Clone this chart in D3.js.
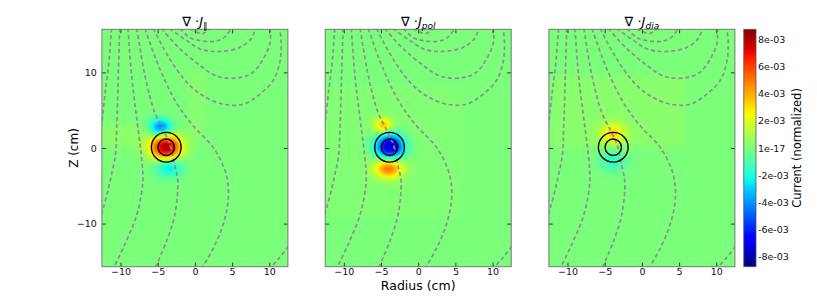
<!DOCTYPE html>
<html>
<head>
<meta charset="utf-8">
<script src="https://cdn.jsdelivr.net/npm/d3@7"></script>
<style>
body { margin: 0; background: #fff; }
svg { display: block; }
text { font-family: "DejaVu Sans", sans-serif; }
</style>
</head>
<body>
<div id="chart"></div>
<script>
// ---- data ----
const panelTitles = [["J", "\u2225"], ["J", "pol"], ["J", "dia"]];
const xTicks = [-10, -5, 0, 5, 10];
const yTicks = [-10, 0, 10];
const cbTicks = [8e-3, 6e-3, 4e-3, 2e-3, 0, -2e-3, -4e-3, -6e-3, -8e-3];
const cbLabels = ["8e-03", "6e-03", "4e-03", "2e-03", "1e-17", "-2e-03", "-4e-03", "-6e-03", "-8e-03"];
const cRange = [-8.75e-3, 8.75e-3];
const coilCenter = [-3.85, 0.1];
const coilRadii = [2.0, 1.1];

// current blobs: [R, Z, sigmaR, sigmaZ, amplitude (1e-3)]
const blobsPar = [
  [-3.9, 0.1, 1.45, 1.15, 8.3],
  [-4.6, 2.7, 1.05, 0.8, -4.6],
  [-3.5, -2.5, 1.25, 0.9, -2.9]
];
const blobsPol = [
  [-3.8, 0.2, 1.3, 1.1, -8.0],
  [-4.0, -2.7, 1.3, 0.9, 5.0],
  [-4.7, 3.0, 0.85, 0.7, 3.6]
];
const blobsDia = [
  [-3.9, 1.9, 1.2, 0.95, 3.0],
  [-3.9, -1.7, 1.25, 0.95, -1.7]
];
// faint patches: [R0, R1, Z0, Z1, amplitude (1e-3)]
const patchesPar = [
  [-13, -5.5, 0.0, 3.0, 0.35],
  [-0.8, 1.5, 1.0, 10.0, 0.25]
];
const patchesPol = [
  [-13, 6, -9, 8, 0.15]
];
const patchesDia = [
  [-12, 6, 0.0, 9.5, 0.3]
];

// flux surfaces (dashed), [R, Z] points
const fluxLines = [
  [[-11.2, 15.8], [-11.6, 11.0], [-12.1, 7.0], [-12.5, 3.5], [-12.7, 2.5]],
  [[-10.1, 15.8], [-10.3, 9.5], [-10.5, 2.9], [-10.7, -1.0], [-11.2, -3.5], [-11.6, -5.3], [-12.3, -7.9], [-12.7, -9.2]],
  [[-9.0, 15.8], [-8.5, 9.5], [-7.8, 3.8], [-7.2, -1.0], [-7.0, -4.4], [-7.8, -8.8], [-9.4, -12.7], [-11.0, -16.0]],
  [[-7.8, 15.8], [-6.7, 9.5], [-5.4, 4.7], [-4.2, 2.3], [-3.4, 0.6], [-3.0, -0.9], [-2.7, -2.4], [-2.3, -4.4], [-2.7, -8.8], [-3.8, -12.3], [-5.4, -16.0]],
  [[-6.7, 15.8], [-4.9, 10.9], [-2.5, 6.0], [-0.2, 2.9], [2.6, -0.1], [4.2, -3.5], [4.5, -6.6], [3.8, -10.1], [2.5, -13.2], [0.9, -16.0]],
  [[12.6, -13.0], [11.3, -14.6], [10.0, -16.0]],
  [[-5.6, 15.8], [-3.4, 11.8], [-1.1, 8.7], [1.1, 6.9], [3.8, 5.8], [6.5, 5.8], [8.7, 7.1], [10.5, 8.9], [11.4, 11.3], [11.6, 13.9], [11.4, 15.8]],
  [[-4.5, 15.8], [-2.0, 13.1], [0.7, 10.9], [2.5, 9.7], [3.8, 9.3], [6.0, 9.3], [7.8, 10.0], [9.2, 11.8], [10.1, 13.9], [10.1, 15.8]],
  [[-3.4, 15.8], [-1.1, 14.2], [0.7, 13.1], [2.2, 12.8], [3.8, 12.8], [6.0, 13.3], [7.6, 14.5], [8.1, 15.8]],
  [[-2.0, 15.8], [-0.7, 14.6], [0.7, 14.2], [2.5, 14.1], [3.8, 14.5], [4.9, 15.8]],
  [[-0.7, 15.8], [0.3, 15.3], [1.2, 15.2], [2.0, 15.8]]
];

const panelBlobs = [blobsPar, blobsPol, blobsDia];
const panelPatches = [patchesPar, patchesPol, patchesDia];

// ---- layout ----
const W = 817, H = 297;
const panelLeft = [101.9, 325.2, 548.9];
const plotTop = 29.3, pw = 186, ph = 237.4;
const cb = {x: 743.8, w: 12.2};

const svg = d3.select("#chart").append("svg")
  .attr("width", W).attr("height", H);

const x = d3.scaleLinear().domain([-12.5, 12.5]).range([0, pw]);
const y = d3.scaleLinear().domain([-15.7, 15.7]).range([ph, 0]);

// matplotlib jet
const jetR = d3.scaleLinear().domain([0, 0.35, 0.66, 0.89, 1]).range([0, 0, 1, 1, 0.5]).clamp(true);
const jetG = d3.scaleLinear().domain([0, 0.125, 0.375, 0.64, 0.91, 1]).range([0, 0, 1, 1, 0, 0]).clamp(true);
const jetB = d3.scaleLinear().domain([0, 0.11, 0.34, 0.65, 1]).range([0.5, 1, 1, 0, 0]).clamp(true);
const norm = d3.scaleLinear().domain(cRange).range([0, 1]).clamp(true);
function jet(t) { return [jetR(t) * 255, jetG(t) * 255, jetB(t) * 255]; }

function ramp(t, a, b) {
  const s = 1.2;
  const l = Math.min(1, Math.max(0, (t - a) / s + 0.5));
  const r = Math.min(1, Math.max(0, (b - t) / s + 0.5));
  return l * r;
}
function field(X, Y, blobs, patches) {
  let v = 0;
  blobs.forEach(function(b) {
    const dx = (X - b[0]) / b[2], dy = (Y - b[1]) / b[3];
    v += b[4] * Math.exp(-0.5 * (dx * dx + dy * dy));
  });
  patches.forEach(function(p) {
    v += p[4] * ramp(X, p[0], p[1]) * ramp(Y, p[2], p[3]);
  });
  return v * 1e-3;
}

function heatImage(blobs, patches) {
  const cw = Math.round(pw), ch = Math.round(ph);
  const canvas = document.createElement("canvas");
  canvas.width = cw; canvas.height = ch;
  const ctx = canvas.getContext("2d");
  const img = ctx.createImageData(cw, ch);
  for (let j = 0; j < ch; j++) {
    const Y = y.invert((j + 0.5) * ph / ch);
    for (let i = 0; i < cw; i++) {
      const X = x.invert((i + 0.5) * pw / cw);
      const c = jet(norm(field(X, Y, blobs, patches)));
      const k = (j * cw + i) * 4;
      img.data[k] = c[0]; img.data[k + 1] = c[1]; img.data[k + 2] = c[2]; img.data[k + 3] = 255;
    }
  }
  ctx.putImageData(img, 0, 0);
  return canvas.toDataURL();
}

const line = d3.line()
  .x(function(d) { return x(d[0]); })
  .y(function(d) { return y(d[1]); })
  .curve(d3.curveCatmullRom);

svg.append("defs").append("clipPath").attr("id", "clip")
  .append("rect").attr("width", pw).attr("height", ph);

panelLeft.forEach(function(left, i) {
  const g = svg.append("g").attr("transform", `translate(${left},${plotTop})`);

  g.append("image")
    .attr("width", pw).attr("height", ph)
    .attr("preserveAspectRatio", "none")
    .attr("href", heatImage(panelBlobs[i], panelPatches[i]));

  const inner = g.append("g").attr("clip-path", "url(#clip)");
  inner.selectAll("path.flux")
    .data(fluxLines)
    .join("path")
    .attr("class", "flux")
    .attr("fill", "none")
    .attr("stroke", "#928a96")
    .attr("stroke-width", 1.7)
    .attr("stroke-dasharray", "4,2.8")
    .attr("d", line);

  inner.selectAll("circle.coil")
    .data(coilRadii)
    .join("circle")
    .attr("class", "coil")
    .attr("cx", x(coilCenter[0]))
    .attr("cy", y(coilCenter[1]))
    .attr("r", function(d) { return x(d) - x(0); })
    .attr("fill", "none")
    .attr("stroke", "#000")
    .attr("stroke-width", 1.4);

  // axes, ticks pointing in
  g.append("g").attr("transform", `translate(0,${ph})`)
    .call(d3.axisBottom(x).tickValues(xTicks).tickSize(-4).tickPadding(2));
  g.append("g").call(d3.axisTop(x).tickValues(xTicks).tickSize(-4).tickFormat(""));
  const ay = g.append("g")
    .call(d3.axisLeft(y).tickValues(yTicks).tickSize(-4).tickPadding(5));
  if (i > 0) ay.selectAll("text").remove();
  g.append("g").attr("transform", `translate(${pw},0)`)
    .call(d3.axisRight(y).tickValues(yTicks).tickSize(-4).tickFormat(""));
  g.selectAll(".domain").remove();
  g.selectAll(".tick line").attr("stroke", "#333");
  g.selectAll(".tick text").attr("font-size", 9.5).attr("fill", "#111")
    .attr("font-family", "DejaVu Sans, sans-serif");

  g.append("rect").attr("width", pw).attr("height", ph)
    .attr("fill", "none").attr("stroke", "#777").attr("stroke-width", 1);

  // title
  const t = g.append("text")
    .attr("x", pw / 2).attr("y", -3)
    .attr("text-anchor", "middle")
    .attr("font-family", "DejaVu Serif, serif")
    .attr("font-size", 13)
    .attr("fill", "#000");
  t.append("tspan").text("\u2207 \u00b7");
  t.append("tspan").attr("font-style", "italic").text(panelTitles[i][0]);
  t.append("tspan").attr("font-style", "italic").attr("font-size", 9)
    .attr("dy", 3).text(panelTitles[i][1]);
});

// axis labels
svg.append("text")
  .attr("transform", `translate(78,${plotTop + ph / 2}) rotate(-90)`)
  .attr("text-anchor", "middle")
  .attr("font-size", 12)
  .text("Z (cm)");
svg.append("text")
  .attr("x", panelLeft[1] + pw / 2).attr("y", 289.5)
  .attr("text-anchor", "middle")
  .attr("font-size", 12.5)
  .text("Radius (cm)");

// colorbar
const grad = svg.select("defs").append("linearGradient")
  .attr("id", "jetgrad").attr("x1", 0).attr("y1", 1).attr("x2", 0).attr("y2", 0);
d3.range(0, 1.0001, 0.02).forEach(function(t) {
  const c = jet(t);
  grad.append("stop").attr("offset", t)
    .attr("stop-color", d3.rgb(c[0], c[1], c[2]).formatHex());
});
const cy = d3.scaleLinear().domain(cRange).range([ph, 0]);
const cg = svg.append("g").attr("transform", `translate(${cb.x},${plotTop})`);
cg.append("rect").attr("width", cb.w).attr("height", ph).attr("fill", "url(#jetgrad)");
cg.append("g").attr("transform", `translate(${cb.w},0)`)
  .call(d3.axisRight(cy).tickValues(cbTicks).tickSize(0).tickPadding(2)
    .tickFormat(function(d, k) { return cbLabels[k]; }))
  .call(function(a) { a.select(".domain").remove(); })
  .selectAll("text").attr("font-size", 9.5).attr("fill", "#111");
cg.append("rect").attr("width", cb.w).attr("height", ph)
  .attr("fill", "none").attr("stroke", "#555").attr("stroke-width", 0.8);
svg.append("text")
  .attr("transform", `translate(801,${plotTop + ph / 2}) rotate(-90)`)
  .attr("text-anchor", "middle")
  .attr("font-size", 11.5)
  .text("Current (normalized)");
</script>
</body>
</html>
